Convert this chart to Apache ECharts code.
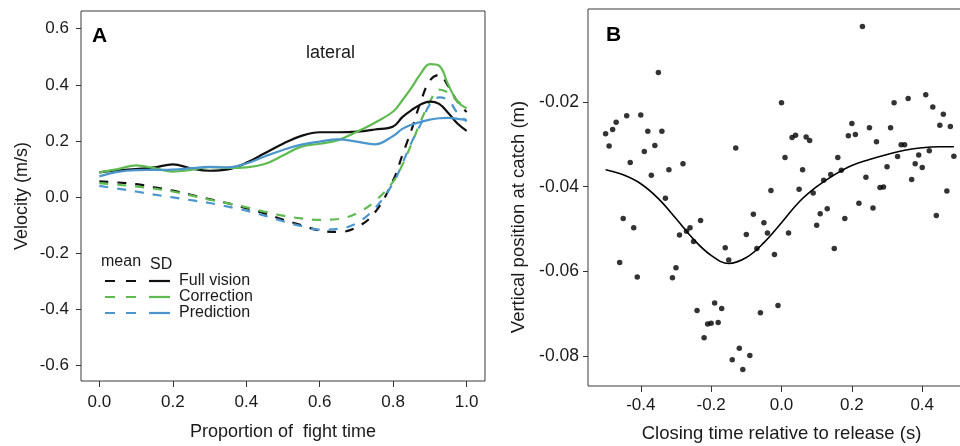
<!DOCTYPE html>
<html>
<head>
<meta charset="utf-8">
<script src="https://cdn.jsdelivr.net/npm/echarts@6/dist/echarts.min.js"></script>
<style>html,body{margin:0;padding:0;background:#fff}#c{width:960px;height:446px}</style>
</head>
<body>
<div id="c"></div>
<script>
// ---------- Panel A data ----------
const aX = [0, 0.05, 0.1, 0.15, 0.2, 0.25, 0.3, 0.35, 0.4, 0.45, 0.5, 0.55, 0.6, 0.65, 0.7, 0.75, 0.8, 0.825, 0.85, 0.875, 0.9, 0.925, 0.95, 0.975, 1.0];
const fullMean = [0.056, 0.052, 0.046, 0.035, 0.023, 0.008, -0.007, -0.022, -0.039, -0.058, -0.080, -0.100, -0.119, -0.124, -0.108, -0.055, 0.060, 0.150, 0.240, 0.340, 0.415, 0.435, 0.395, 0.340, 0.303];
const corrMean = [0.050, 0.044, 0.038, 0.030, 0.020, 0.006, -0.009, -0.022, -0.036, -0.052, -0.066, -0.076, -0.081, -0.078, -0.058, -0.015, 0.055, 0.115, 0.190, 0.270, 0.340, 0.383, 0.372, 0.342, 0.320];
const predMean = [0.040, 0.030, 0.020, 0.009, -0.001, -0.011, -0.021, -0.034, -0.048, -0.066, -0.086, -0.103, -0.116, -0.113, -0.093, -0.040, 0.050, 0.120, 0.195, 0.260, 0.330, 0.355, 0.345, 0.300, 0.270];
const fullSD = [0.088, 0.095, 0.100, 0.106, 0.117, 0.102, 0.094, 0.099, 0.122, 0.156, 0.190, 0.218, 0.231, 0.231, 0.233, 0.241, 0.252, 0.285, 0.310, 0.330, 0.340, 0.332, 0.300, 0.262, 0.236];
const corrSD = [0.088, 0.100, 0.113, 0.103, 0.091, 0.097, 0.107, 0.104, 0.106, 0.118, 0.148, 0.180, 0.190, 0.203, 0.232, 0.265, 0.305, 0.345, 0.390, 0.440, 0.474, 0.468, 0.400, 0.340, 0.317];
const predSD = [0.074, 0.090, 0.096, 0.097, 0.098, 0.103, 0.108, 0.106, 0.120, 0.145, 0.168, 0.187, 0.198, 0.206, 0.198, 0.188, 0.218, 0.243, 0.258, 0.268, 0.276, 0.281, 0.282, 0.279, 0.275];
const aXTicks = [0, 0.2, 0.4, 0.6, 0.8, 1.0];
const aYTicks = [-0.6, -0.4, -0.2, 0, 0.2, 0.4, 0.6];
const legendNames = ['Full vision', 'Correction', 'Prediction'];

// ---------- Panel B data ----------
const bX = [
 -0.50,-0.49,-0.48,-0.47,-0.46,-0.45,-0.44,-0.43,-0.42,-0.41,
 -0.40,-0.39,-0.38,-0.37,-0.36,-0.35,-0.34,-0.33,-0.32,-0.31,
 -0.30,-0.29,-0.28,-0.27,-0.26,-0.25,-0.24,-0.23,-0.22,-0.21,
 -0.20,-0.19,-0.18,-0.17,-0.16,-0.15,-0.14,-0.13,-0.12,-0.11,
 -0.10,-0.09,-0.08,-0.07,-0.06,-0.05,-0.04,-0.03,-0.02,-0.01,
  0.00, 0.01, 0.02, 0.03, 0.04, 0.05, 0.06, 0.07, 0.08, 0.09,
  0.10, 0.11, 0.12, 0.13, 0.14, 0.15, 0.16, 0.17, 0.18, 0.19,
  0.20, 0.21, 0.22, 0.23, 0.24, 0.25, 0.26, 0.27, 0.28, 0.29,
  0.30, 0.31, 0.32, 0.33, 0.34, 0.35, 0.36, 0.37, 0.38, 0.39,
  0.40, 0.41, 0.42, 0.43, 0.44, 0.45, 0.46, 0.47, 0.48, 0.49];
const bY = [
 -0.0275,-0.0304,-0.0265,-0.0248,-0.0579,-0.0475,-0.0233,-0.0343,-0.0497,-0.0613,
 -0.0231,-0.0317,-0.0269,-0.0373,-0.0303,-0.0131,-0.0269,-0.0427,-0.0360,-0.0615,
 -0.0591,-0.0514,-0.0346,-0.0505,-0.0497,-0.0529,-0.0692,-0.0480,-0.0756,-0.0724,
 -0.0722,-0.0674,-0.0720,-0.0687,-0.0544,-0.0573,-0.0808,-0.0309,-0.0781,-0.0831,
 -0.0513,-0.0798,-0.0465,-0.0546,-0.0697,-0.0485,-0.0509,-0.0409,-0.0560,-0.0680,
 -0.0202,-0.0331,-0.0509,-0.0284,-0.0279,-0.0406,-0.0360,-0.0283,-0.0291,-0.0415,
 -0.0491,-0.0464,-0.0385,-0.0452,-0.0371,-0.0546,-0.0331,-0.0361,-0.0475,-0.0280,
 -0.0251,-0.0277,-0.0439,-0.0022,-0.0378,-0.0261,-0.0450,-0.0294,-0.0402,-0.0401,
 -0.0353,-0.0261,-0.0202,-0.0329,-0.0301,-0.0301,-0.0192,-0.0383,-0.0346,-0.0325,
 -0.0355,-0.0183,-0.0315,-0.0212,-0.0468,-0.0255,-0.0229,-0.0410,-0.0258,-0.0328];
const fitX = [-0.50,-0.45,-0.40,-0.35,-0.30,-0.25,-0.20,-0.15,-0.10,-0.05,0.00,0.05,0.10,0.15,0.20,0.25,0.30,0.35,0.40,0.45,0.49];
const fitY = [-0.0360,-0.0372,-0.0393,-0.0428,-0.0475,-0.0524,-0.0562,-0.0581,-0.0567,-0.0532,-0.0485,-0.0436,-0.0400,-0.0372,-0.0350,-0.0336,-0.0324,-0.0314,-0.0308,-0.0306,-0.0306];
const bXTicks = [-0.4, -0.2, 0, 0.2, 0.4];
const bYTicks = [-0.08, -0.06, -0.04, -0.02];

// ---------- styling ----------
const FONT = 'Liberation Sans';
const TXT = '#1a1a1a';
const BLACK = '#111111', GREEN = '#5FBA50', BLUE = '#4B96CD';
const colors = [BLACK, GREEN, BLUE];
const DASH = [9, 9];

const chart = echarts.init(document.getElementById('c'), null, {renderer: 'canvas'});

function pairs(xs, ys) { return xs.map((x, i) => [x, ys[i]]); }
function lineSeries(name, ys, color, dashed) {
  return {
    name, type: 'line', xAxisIndex: 0, yAxisIndex: 0,
    data: pairs(aX, ys), symbol: 'none', smooth: 0.4,
    lineStyle: {color, width: 2.2, type: dashed ? DASH : 'solid'},
    z: dashed ? 3 : 4
  };
}

const legendGraphics = [];
legendGraphics.push({type: 'text', x: 101, y: 262, style: {text: 'mean', font: '16px ' + FONT, fill: TXT, align: 'left', verticalAlign: 'middle'}});
legendGraphics.push({type: 'text', x: 150, y: 265, style: {text: 'SD', font: '16px ' + FONT, fill: TXT, align: 'left', verticalAlign: 'middle'}});
legendNames.forEach((n, i) => {
  const y = 281 + i * 16;
  legendGraphics.push({type: 'line', shape: {x1: 105, y1: y, x2: 137, y2: y}, style: {stroke: colors[i], lineWidth: 2.2, lineDash: [10, 11]}});
  legendGraphics.push({type: 'line', shape: {x1: 149, y1: y, x2: 170, y2: y}, style: {stroke: colors[i], lineWidth: 2.2}});
  legendGraphics.push({type: 'text', x: 179, y: y, style: {text: n, font: '16px ' + FONT, fill: TXT, align: 'left', verticalAlign: 'middle'}});
});

const axisCommon = {
  splitLine: {show: false},
  axisLine: {show: false, onZero: false},
};

const option = {
  animation: false,
  backgroundColor: '#fff',
  textStyle: {fontFamily: FONT},
  grid: [
    {left: 81, top: 11, width: 404, height: 370, show: true, borderColor: '#3a3a3a', borderWidth: 1, backgroundColor: 'transparent', outerBoundsMode: 'none', containLabel: false},
    {left: 588, top: 9, width: 387, height: 377, show: true, borderColor: '#3a3a3a', borderWidth: 1, backgroundColor: 'transparent', outerBoundsMode: 'none', containLabel: false}
  ],
  xAxis: [
    Object.assign({}, axisCommon, {
      type: 'value', gridIndex: 0, min: -0.05, max: 1.05, position: 'bottom',
      axisTick: {show: true, length: 6, lineStyle: {color: '#333'}, customValues: aXTicks},
      axisLabel: {customValues: aXTicks, formatter: v => v.toFixed(1), fontSize: 17, color: TXT, margin: 13, fontFamily: FONT},
      name: 'Proportion of  fight time', nameLocation: 'middle', nameGap: 42,
      nameTextStyle: {fontSize: 18, color: TXT, fontFamily: FONT}
    }),
    Object.assign({}, axisCommon, {
      type: 'value', gridIndex: 1, min: -0.55, max: 0.55, position: 'bottom',
      axisTick: {show: true, length: 6, lineStyle: {color: '#333'}, customValues: bXTicks},
      axisLabel: {customValues: bXTicks, formatter: v => v.toFixed(1), fontSize: 17, color: TXT, margin: 11, fontFamily: FONT},
      name: 'Closing time relative to release (s)', nameLocation: 'middle', nameGap: 38,
      nameTextStyle: {fontSize: 18.5, color: TXT, fontFamily: FONT}
    })
  ],
  yAxis: [
    Object.assign({}, axisCommon, {
      type: 'value', gridIndex: 0, min: -0.655, max: 0.663, position: 'left',
      axisTick: {show: true, length: 5, lineStyle: {color: '#333'}, customValues: aYTicks},
      axisLabel: {customValues: aYTicks, formatter: v => v.toFixed(1), fontSize: 17, color: TXT, margin: 12, fontFamily: FONT},
      name: 'Velocity (m/s)', nameLocation: 'middle', nameGap: 50, nameRotate: 90,
      nameTextStyle: {fontSize: 18, color: TXT, fontFamily: FONT}
    }),
    Object.assign({}, axisCommon, {
      type: 'value', gridIndex: 1, min: -0.087, max: 0.0019, position: 'left',
      axisTick: {show: true, length: 5, lineStyle: {color: '#333'}, customValues: bYTicks},
      axisLabel: {customValues: bYTicks, formatter: v => v.toFixed(2), fontSize: 17.5, color: TXT, margin: 9, fontFamily: FONT}
    })
  ],
  graphic: [
    {type: 'text', x: 92, y: 36, style: {text: 'A', font: 'bold 21px ' + FONT, fill: '#000', align: 'left', verticalAlign: 'middle'}},
    {type: 'text', x: 330.5, y: 53, style: {text: 'lateral', font: '18px ' + FONT, fill: TXT, align: 'center', verticalAlign: 'middle'}},
    {type: 'text', x: 606, y: 35, style: {text: 'B', font: 'bold 21px ' + FONT, fill: '#000', align: 'left', verticalAlign: 'middle'}},
    {type: 'text', x: 519, y: 217, rotation: Math.PI / 2, style: {text: 'Vertical position at catch (m)', font: '18.5px ' + FONT, fill: TXT, align: 'center', verticalAlign: 'middle'}}
  ].concat(legendGraphics),
  series: [
    lineSeries('Full vision mean', fullMean, BLACK, true),
    lineSeries('Correction mean', corrMean, GREEN, true),
    lineSeries('Prediction mean', predMean, BLUE, true),
    lineSeries('Full vision SD', fullSD, BLACK, false),
    lineSeries('Correction SD', corrSD, GREEN, false),
    lineSeries('Prediction SD', predSD, BLUE, false),
    {
      name: 'catch', type: 'scatter', xAxisIndex: 1, yAxisIndex: 1,
      data: pairs(bX, bY), symbol: 'circle', symbolSize: 5.5,
      itemStyle: {color: '#000'}
    },
    {
      name: 'fit', type: 'line', xAxisIndex: 1, yAxisIndex: 1,
      data: pairs(fitX, fitY), symbol: 'none', smooth: 0.4,
      lineStyle: {color: '#000', width: 1.6}
    }
  ]
};
chart.setOption(option);
</script>
</body>
</html>
